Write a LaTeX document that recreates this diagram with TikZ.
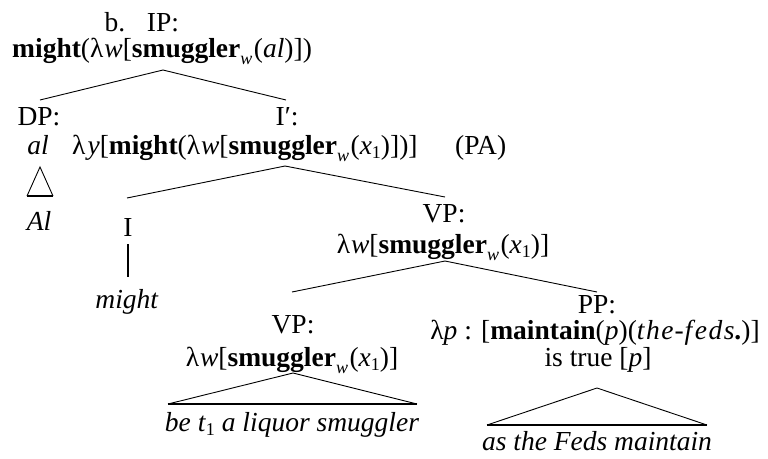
\documentclass[tikz,border=0pt]{standalone}
\usepackage{fontspec}
\setmainfont{Liberation Serif}
% subscripts set in the text font
\newcommand\subw{\raisebox{-0.28em}{\fontsize{18}{18}\selectfont\itshape w}\kern1.5pt}
\newcommand\subone{\raisebox{-0.16em}{\fontsize{18}{18}\selectfont 1}}
\begin{document}
\begin{tikzpicture}[x=1pt,y=-1pt,
  lbl/.style={inner sep=0pt,anchor=base,font=\fontsize{27.5}{32}\selectfont},
  lblw/.style={lbl,anchor=base west},
  branch/.style={line width=0.9pt},
  roof/.style={line width=0.9pt},
  roofbase/.style={line width=2.6pt}]
\useasboundingbox (0,0) rectangle (768,458);

% IP
\node[lbl] (bmark) at (115,31) {b.};
\node[lbl] (ipcat) at (163,31) {IP:};
\node[lblw] (ipsem) at (12,57) {\textbf{might}(λ\kern1pt\textit{w}[\textbf{smuggler}\subw(\textit{al})])};
\coordinate (ipB) at (163,70);

% DP
\node[lbl] (dpcat) at (39,125) {DP:};
\node[lbl] (dpsem) at (38,154) {\textit{al}};
\coordinate (dpT) at (40,100);
\coordinate (dpB) at (40,167);
\coordinate (dpL) at (27,196);
\coordinate (dpR) at (53,196);
\node[lbl] (dpword) at (39,230) {\textit{Al}};

% I'
\node[lbl] (ibarcat) at (287,125) {I′:};
\node[lblw] (ibarsem) at (72,154) {λ\kern2pt\textit{y}[\textbf{might}(λ\kern1pt\textit{w}[\textbf{smuggler}\subw(\textit{x}\subone)])]};
\node[lblw] (pa) at (455,154) {(PA)};
\coordinate (ibarT) at (286,100);
\coordinate (ibarB) at (285,166);

% I
\node[lbl] (icat) at (128,236) {I};
\coordinate (iT) at (127,198);
\coordinate (iB) at (128,244);
\coordinate (iwordT) at (128,277);
\node[lbl] (iword) at (127,308) {\textit{might}};

% upper VP
\node[lbl] (vpcat) at (444,222) {VP:};
\node[lbl] (vpsem) at (443,253) {λ\kern1pt\textit{w}[\textbf{smuggler}\subw(\textit{x}\subone)]};
\coordinate (vpT) at (445,197);
\coordinate (vpB) at (445,261);

% lower VP
\node[lbl] (vplcat) at (293,333) {VP:};
\node[lbl] (vplsem) at (292,366) {λ\kern1pt\textit{w}[\textbf{smuggler}\subw(\textit{x}\subone)]};
\coordinate (vplT) at (292,292);
\coordinate (vplB) at (293,373);
\coordinate (vplL) at (168,404);
\coordinate (vplR) at (417,404);
\node[lbl] (vplword) at (292,431) {\textit{be t}\subone\ \textit{a liquor smuggler}};

% PP
\node[lbl] (ppcat) at (597,313) {PP:};
\node[lbl] (ppsem) at (595,339) {λ\textit{p} : [\textbf{maintain}(\textit{p})(\textit{t\kern1.5pt h\kern1.5pt e}\kern1pt-\kern1pt\textit{f\kern2.5pt e\kern1.5pt d\kern1.5pt s}\textbf{.})]};
\node[lbl] (pptrue) at (598,366) {is true [\textit{p}]};
\coordinate (ppT) at (597,292);
\coordinate (ppB) at (597,388);
\coordinate (ppL) at (487,425);
\coordinate (ppR) at (707,425);
\node[lbl] (ppword) at (597,450) {\textit{as the Feds maintain}};

% branches
\draw[branch] (dpT) -- (ipB) -- (ibarT);
\draw[branch] (iT) -- (ibarB) -- (vpT);
\draw[branch] (vplT) -- (vpB) -- (ppT);
\draw[line width=2pt] (iB) -- (iwordT);

% roofs
\draw[roof] (dpL) -- (dpB) -- (dpR);
\draw[roofbase] (dpL) -- (dpR);
\draw[roof] (vplL) -- (vplB) -- (vplR);
\draw[roofbase] (vplL) -- (vplR);
\draw[roof] (ppL) -- (ppB) -- (ppR);
\draw[roofbase] (ppL) -- (ppR);
\end{tikzpicture}
\end{document}
